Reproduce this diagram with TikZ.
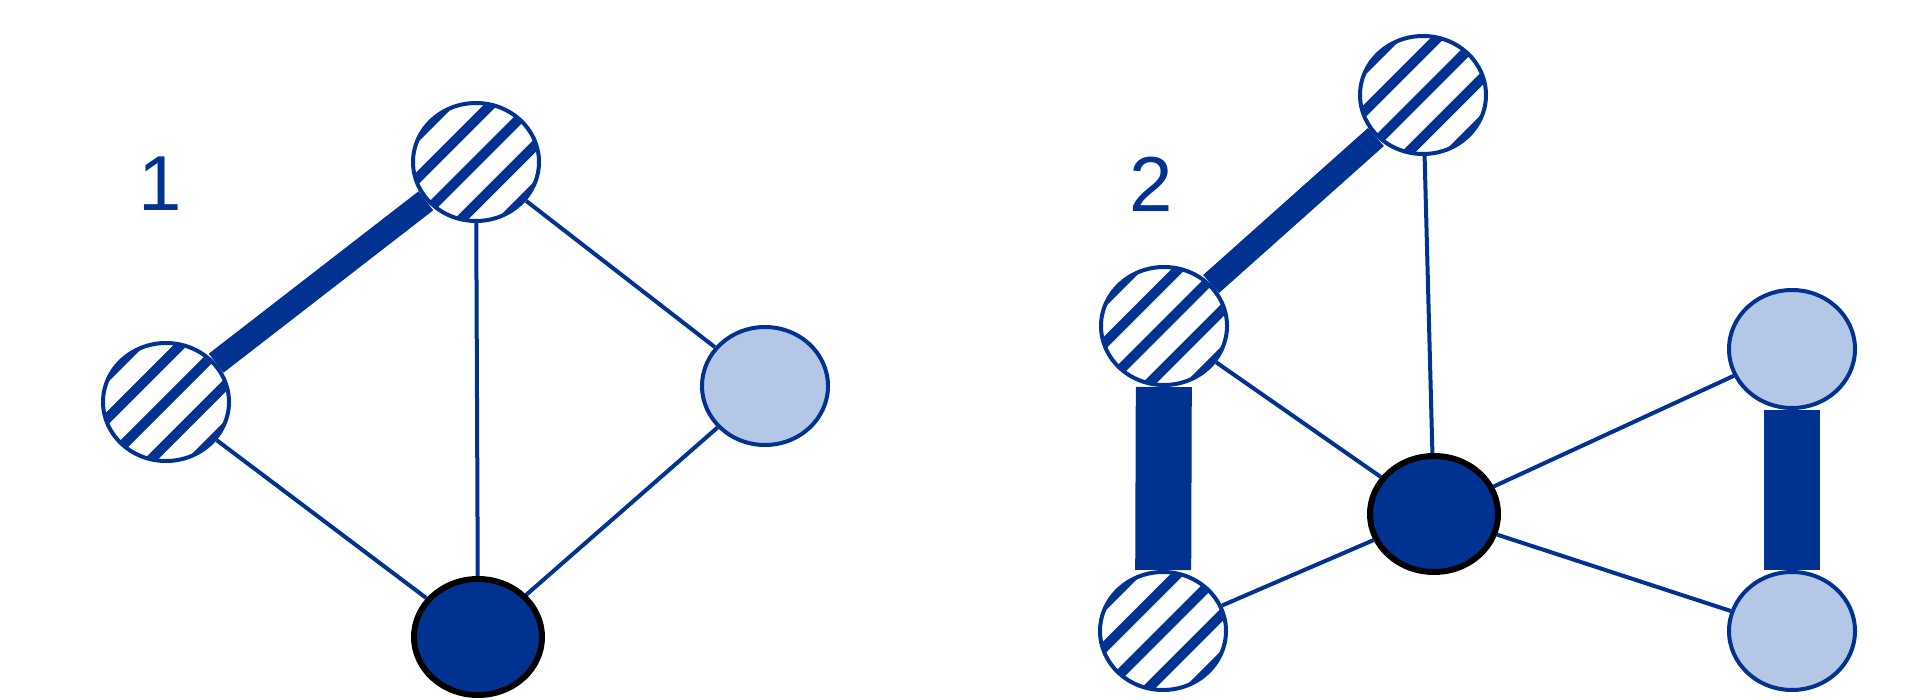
\documentclass[tikz,border=0pt]{standalone}
\usepackage{fontspec}
\setmainfont{Liberation Sans}
\usetikzlibrary{shapes.geometric,backgrounds}
\definecolor{nblue}{HTML}{003391}
\definecolor{lblue}{HTML}{B4C7E7}
\begin{document}
\begin{tikzpicture}[x=1pt,y=-1pt,
  vtx/.style={ellipse,inner sep=0pt,minimum width=126pt,minimum height=118pt,line width=4pt},
  hatched/.style={vtx,draw=nblue,fill=white,
    path picture={\foreach \k in {-5,...,5}{
      \draw[nblue,line width=10pt] ([shift={(135:\k*30pt)}]path picture bounding box.center) ++(45:-130pt) -- ++(45:260pt);}}},
  dark/.style={vtx,draw=black,fill=nblue,line width=6pt,minimum width=128pt,minimum height=116pt},
  light/.style={vtx,draw=nblue,fill=lblue},
  edge/.style={draw=nblue,line width=4pt},
  heavy/.style={draw=nblue,line width=24pt},
  bar/.style={draw=nblue,line width=56pt},
  lbl/.style={text=nblue,font=\fontsize{78pt}{80pt}\selectfont,inner sep=0pt}]
\path[use as bounding box] (0,0) rectangle (1909,700);
% left graph
\node[hatched] (A) at (476,162) {};
\node[hatched] (B) at (166,402) {};
\node[light] (C) at (765,386) {};
\node[dark] (D) at (478,637) {};
\node[lbl] (l1) at (160,184) {1};
% right graph
\node[hatched] (E) at (1423,95) {};
\node[hatched] (F) at (1164,326) {};
\node[dark] (G) at (1434,514) {};
\node[hatched] (H) at (1163,631) {};
\node[light] (I) at (1792,349) {};
\node[light] (J) at (1792,631) {};
\node[lbl] (l2) at (1151,184) {2};
\begin{pgfonlayer}{background}
\draw[heavy] (A) -- (B);
\draw[edge] (A) -- (C);
\draw[edge] (A) -- (D);
\draw[edge] (B) -- (D);
\draw[edge] (C) -- (D);
\draw[heavy] (E) -- (F);
\draw[edge] (E) -- (G);
\draw[edge] (F) -- (G);
\draw[edge] (G) -- (H);
\draw[edge] (G) -- (I);
\draw[edge] (G) -- (J);
\draw[bar] (F) -- (H);
\draw[bar] (I) -- (J);
\end{pgfonlayer}
\end{tikzpicture}
\end{document}
